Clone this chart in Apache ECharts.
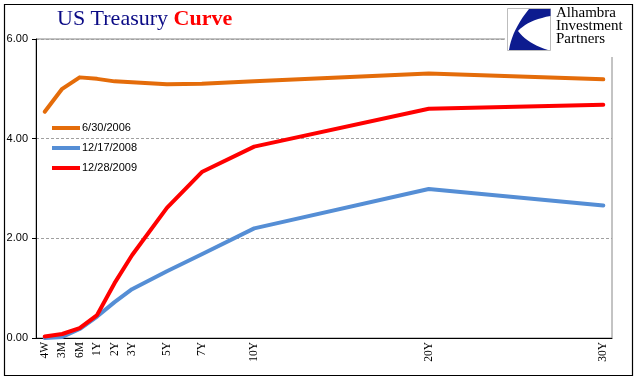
<!DOCTYPE html>
<html>
<head>
<meta charset="utf-8">
<script src="https://cdn.jsdelivr.net/npm/echarts@6/dist/echarts.min.js"></script>
<style>html,body{margin:0;padding:0;background:#fff;}#c{width:641px;height:381px;}</style>
</head>
<body>
<div id="c"></div>
<script>
// Full category axis (one slot per year after 3Y); only named tenors carry labels
const categories = ['4W','3M','6M','1Y','2Y','3Y','4Y','5Y','6Y','7Y','8Y','9Y','10Y',
  '11Y','12Y','13Y','14Y','15Y','16Y','17Y','18Y','19Y','20Y',
  '21Y','22Y','23Y','24Y','25Y','26Y','27Y','28Y','29Y','30Y'];
const tenors = ['4W','3M','6M','1Y','2Y','3Y','5Y','7Y','10Y','20Y','30Y'];
const seriesNames = ['6/30/2006','12/17/2008','12/28/2009'];
const y2006 = [4.54, 5.00, 5.23, 5.20, 5.15, 5.13, 5.09, 5.10, 5.15, 5.31, 5.19];
const y2008 = [0.00, 0.02, 0.18, 0.43, 0.72, 0.98, 1.34, 1.68, 2.20, 2.99, 2.66];
const y2009 = [0.03, 0.08, 0.20, 0.46, 1.10, 1.66, 2.61, 3.33, 3.84, 4.60, 4.68];
const yTicks = [0, 2, 4, 6];

function toSlots(vals) {
  return categories.map(c => {
    const i = tenors.indexOf(c);
    return i >= 0 ? vals[i] : null;
  });
}

// logo helper: sample quadratic curves into polygon points
function quad(p0, c, p1, n) {
  const out = [];
  for (let i = 1; i <= n; i++) {
    const t = i / n, u = 1 - t;
    out.push([u*u*p0[0] + 2*u*t*c[0] + t*t*p1[0], u*u*p0[1] + 2*u*t*c[1] + t*t*p1[1]]);
  }
  return out;
}
const logoPts = [[529,9],[550.5,9],[550.5,16]]
  .concat(quad([550.5,16],[528,20],[518,31],10))
  .concat(quad([518,31],[528,44],[548,50],10))
  .concat([[509,50]])
  .concat(quad([509,50],[512,30],[529,9],10));

const chart = echarts.init(document.getElementById('c'));
const colors = ['#E46C0A', '#558ED5', '#FF0000'];
const data = [y2006, y2008, y2009];

chart.setOption({
  animation: false,
  backgroundColor: '#fff',
  title: {
    left: 57, top: 8, padding: 0,
    text: '{a|US Treasury }{b|Curve}',
    textStyle: {
      fontWeight: 'normal',
      rich: {
        a: { fontFamily: 'Liberation Serif', fontSize: 22, color: '#0A0A85', fontWeight: 'normal' },
        b: { fontFamily: 'Liberation Serif', fontSize: 22, color: '#FF0000', fontWeight: 'bold' }
      }
    }
  },
  legend: {
    orient: 'vertical', left: 52, top: 121, padding: 0,
    itemWidth: 28, itemHeight: 4, itemGap: 6,
    icon: 'rect',
    data: seriesNames,
    textStyle: { fontFamily: 'Liberation Sans', fontSize: 11, color: '#000', lineHeight: 14, padding: [0,0,0,-3] }
  },
  grid: {
    left: 36, right: 29, top: 39, bottom: 43,
    show: true, borderColor: '#888', borderWidth: 1, backgroundColor: 'transparent'
  },
  xAxis: {
    type: 'category',
    data: categories,
    boundaryGap: true,
    axisLine: { lineStyle: { color: '#000', width: 1 } },
    axisTick: { interval: 0, length: 4, lineStyle: { color: '#000' } },
    axisLabel: {
      interval: (idx, val) => tenors.indexOf(val) >= 0,
      rotate: 90, margin: 4,
      fontFamily: 'Liberation Serif', fontSize: 11.5, color: '#000'
    },
    splitLine: { show: false }
  },
  yAxis: {
    type: 'value',
    min: yTicks[0], max: yTicks[yTicks.length - 1], interval: 2,
    axisLine: { show: true, lineStyle: { color: '#000', width: 1 } },
    axisTick: { show: true, length: 4, lineStyle: { color: '#000' } },
    axisLabel: {
      formatter: v => v.toFixed(2), margin: 8,
      fontFamily: 'Liberation Sans', fontSize: 11, color: '#000'
    },
    splitLine: { show: true, lineStyle: { color: '#A0A0A0', type: [3, 2], width: 1 } }
  },
  series: seriesNames.map((n, k) => ({
    name: n, type: 'line',
    data: toSlots(data[k]),
    connectNulls: true,
    showSymbol: false, symbol: 'none',
    color: colors[k],
    lineStyle: { width: 4, color: colors[k], cap: 'round', join: 'round' },
    z: k === 1 ? 2 : 3
  })),
  graphic: [
    { type: 'rect', silent: true, z: 100,
      shape: { x: 505, y: 5, width: 125, height: 52 },
      style: { fill: '#fff' } },
    { type: 'rect', silent: true, z: 101,
      shape: { x: 507.5, y: 8.5, width: 43, height: 42 },
      style: { fill: '#fff', stroke: '#BDBDBD', lineWidth: 1 } },
    { type: 'polygon', silent: true, z: 102,
      shape: { points: logoPts },
      style: { fill: '#0D1B8F' } },
    { type: 'text', silent: true, z: 102,
      style: { x: 556, y: 7, text: 'Alhambra\nInvestment\nPartners',
        font: '15px "Liberation Serif"', lineHeight: 13, fill: '#000' } },
    { type: 'rect', silent: true, z: 110,
      shape: { x: 4.5, y: 4.5, width: 628, height: 371 },
      style: { fill: 'none', stroke: '#000', lineWidth: 1.2 } }
  ]
});
</script>
</body>
</html>
